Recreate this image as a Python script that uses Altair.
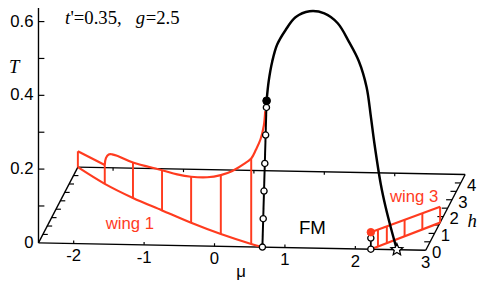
import altair as alt
import numpy as np
import pandas as pd

# ---------------- model-space extents (mu, h, T) ----------------
MU_MIN, MU_MAX = -2.5, 3.0
H_MAX = 4.5
T_AXIS_TOP = 0.66

t_ticks = [0.1, 0.2, 0.3, 0.4, 0.5, 0.6]
t_labels = [0.0, 0.2, 0.4, 0.6]
t_label_text = ["0", "0.2", "0.4", "0.6"]
mu_labels = [-2, -1, 0, 1, 2, 3]
mu_label_text = ["-2", "-1", "0", "1", "2", "3"]
mu_edge_ticks = [-2, -1, 0, 1, 2]
h_ticks = [0.5, 1.0, 1.5, 2.0, 2.5, 3.0, 3.5, 4.0]
h_labels = [0, 1, 2, 3, 4]
h_label_text = ["0", "1", "2", "3", "4"]

# first-order line in the h = 0 plane
fo_mu = [0.68, 0.74]
fo_T = [0.0, 0.397]
fo_circle_T = [0.0, 0.077, 0.152, 0.227, 0.304, 0.379]
cep_mu = [0.74]
cep_T = [0.397]

# critical line in the h = 0 plane
crit_mu = [0.74, 0.77, 0.82, 0.89, 1.01, 1.15, 1.35, 1.56, 1.75, 1.91, 2.05,
           2.16, 2.22, 2.27, 2.36, 2.43, 2.51, 2.59]
crit_T = [0.397, 0.451, 0.504, 0.550, 0.590, 0.625, 0.642, 0.637, 0.611, 0.561,
          0.509, 0.439, 0.360, 0.288, 0.178, 0.115, 0.055, 0.0]
star_mu = [2.59]

# wing 1
w1_bot_mu = [-2.5, -2.0, -1.5, -1.0, -0.5, 0.0, 0.5, 0.68]
w1_bot_h = [4.5, 3.55, 2.75, 2.05, 1.35, 0.72, 0.17, 0.0]
w1_edge_mu = [-2.5, -2.0]
w1_edge_h = [4.5, 3.55]
w1_edge_T = [0.043, 0.051]
w1_top_mu = [-2.0, -1.98, -1.93, -1.87, -1.77, -1.5, -1.0, -0.74, -0.5, -0.23,
             0.0, 0.18, 0.37, 0.5, 0.575, 0.65, 0.70, 0.72]
w1_top_h = [3.55, 3.52, 3.44, 3.34, 3.18, 2.75, 2.05, 1.69, 1.35, 1.01,
            0.72, 0.525, 0.31, 0.17, 0.099, 0.028, 0.0, 0.0]
w1_top_T = [0.051, 0.071, 0.085, 0.090, 0.093, 0.096, 0.109, 0.115, 0.125, 0.140,
            0.160, 0.180, 0.209, 0.232, 0.259, 0.291, 0.329, 0.369]
w1_hatch_mu = [-2.5, -2.0, -1.5, -1.0, -0.5, 0.0, 0.5]
w1_hatch_h = [4.5, 3.55, 2.75, 2.05, 1.35, 0.72, 0.17]
w1_hatch_T = [0.043, 0.051, 0.096, 0.109, 0.125, 0.160, 0.232]

# wing 3
w3_bot_mu = [2.25, 3.0]
w3_bot_h = [0.06, 1.64]
w3_top_mu = [2.22, 3.0]
w3_top_h = [0.0, 1.64]
w3_top_T = [0.046, 0.043]
w3_hatch_mu = [2.3, 2.4, 2.6, 2.8, 3.0]
w3_hatch_h = [0.17, 0.38, 0.80, 1.22, 1.64]
w3_hatch_T = [0.046, 0.046, 0.045, 0.044, 0.043]
w3_mu = [2.22]
w3_circle_T = [0.0, 0.03]
w3_dot_T = [0.046]

# ---------------- oblique projection ----------------
KX = 8.9 / 71.6
KY = 17.1 / 375.0
KM = 1.36 / 375.0


def proj(mu, h, T):
    mu, h, T = np.broadcast_arrays(np.asarray(mu, float), np.asarray(h, float),
                                   np.asarray(T, float))
    return mu + KX * h, T + KY * h - KM * (mu - MU_MIN)


def line_df(mu, h, T):
    X, Y = proj(mu, h, T)
    return pd.DataFrame({"X": X, "Y": Y, "i": np.arange(len(X))})


def rule_df(mu, h, T, mu2, h2, T2):
    X, Y = proj(mu, h, T)
    X2, Y2 = proj(mu2, h2, T2)
    return pd.DataFrame({"X": X, "Y": Y, "X2": X2, "Y2": Y2})


def tick_df(mu, h, T, dX, dY):
    X, Y = proj(mu, h, T)
    return pd.DataFrame({"X": X, "Y": Y, "X2": X + dX, "Y2": Y + dY})


W, H = 482, 274
xs = alt.Scale(domain=[-2.5 - 31 / 71.6, -2.5 + (W - 31) / 71.6], nice=False, zero=False)
ys = alt.Scale(domain=[(236.5 - H) / 375.0, 236.5 / 375.0], nice=False, zero=False)
ex = alt.X("X:Q", scale=xs, axis=None)
ey = alt.Y("Y:Q", scale=ys, axis=None)

RED = "#ff3b1f"
SANS = "Liberation Sans"
SERIF = "Liberation Serif"


def rules(df, color, width):
    return alt.Chart(df).mark_rule(color=color, strokeWidth=width).encode(
        x=ex, y=ey, x2="X2:Q", y2="Y2:Q")


def line(df, color, width, interp="linear"):
    return alt.Chart(df).mark_line(color=color, strokeWidth=width, interpolate=interp).encode(
        x=ex, y=ey, order="i:Q")


def points(df, size, fill, stroke, sw, shape="circle"):
    return alt.Chart(df).mark_point(shape=shape, size=size, filled=True, fill=fill,
                                    stroke=stroke, strokeWidth=sw, opacity=1).encode(x=ex, y=ey)


# box and axes
box = rule_df([MU_MIN, MU_MIN, MU_MIN, MU_MAX, MU_MIN],
              [0, H_MAX, 0, 0, 0],
              [0, 0, 0, 0, 0],
              [MU_MAX, MU_MAX, MU_MIN, MU_MAX, MU_MIN],
              [0, H_MAX, H_MAX, H_MAX, 0],
              [0, 0, 0, 0, T_AXIS_TOP])
ticks = pd.concat([
    tick_df(MU_MIN, 0, t_ticks, 6 / 71.6, 0),
    tick_df(mu_edge_ticks, 0, 0, 0, 3 / 375),
    tick_df(mu_edge_ticks, H_MAX, 0, 0, -3 / 375),
    tick_df(MU_MIN, h_ticks, 0, 5 / 71.6, 0),
    tick_df(MU_MAX, h_ticks, 0, -6 / 71.6, 0),
])

layers = [
    rules(box, "black", 1.4),
    rules(ticks, "black", 1.2),
    # wing 1
    rules(rule_df(w1_hatch_mu, w1_hatch_h, 0, w1_hatch_mu, w1_hatch_h, w1_hatch_T), RED, 2),
    line(line_df(w1_bot_mu, w1_bot_h, 0), RED, 2.2, "catmull-rom"),
    line(line_df(w1_edge_mu, w1_edge_h, w1_edge_T), RED, 2.2),
    line(line_df(w1_top_mu, w1_top_h, w1_top_T), RED, 2.2, "catmull-rom"),
    # wing 3
    rules(rule_df(w3_hatch_mu, w3_hatch_h, 0, w3_hatch_mu, w3_hatch_h, w3_hatch_T), RED, 2),
    line(line_df(w3_bot_mu, w3_bot_h, 0), RED, 2.2),
    line(line_df(w3_top_mu, w3_top_h, w3_top_T), RED, 2.2),
    # h = 0 plane black lines
    line(line_df(fo_mu, 0, fo_T), "black", 2),
    line(line_df(crit_mu, 0, crit_T), "black", 2.5, "catmull-rom"),
    rules(rule_df(w3_mu, 0, 0, w3_mu, 0, w3_dot_T), "black", 1.8),
    # markers
    points(line_df(np.interp(fo_circle_T, fo_T, fo_mu), 0, fo_circle_T), 40, "white", "black", 1.3),
    points(line_df(w3_mu * 2, 0, w3_circle_T), 40, "white", "black", 1.3),
    points(line_df(cep_mu, 0, cep_T), 62, "black", "black", 1),
    points(line_df(w3_mu, 0, w3_dot_T), 58, RED, RED, 1),
    points(line_df(star_mu, 0, 0), 160, "white", "black", 1.3,
           shape="M0,-1L0.265,-0.364L0.951,-0.309L0.428,0.139L0.588,0.809L0,0.45"
                 "L-0.588,0.809L-0.428,0.139L-0.951,-0.309L-0.265,-0.364Z"),
]

# axis tick labels
Xl, Yl = proj(MU_MIN, 0, t_labels)
layers.append(alt.Chart(pd.DataFrame({"X": Xl, "Y": Yl, "t": t_label_text})).mark_text(
    align="right", baseline="middle", dx=-5, fontSize=17, font=SANS, color="black").encode(
    x=ex, y=ey, text="t:N"))
Xl, Yl = proj(mu_labels, 0, 0)
layers.append(alt.Chart(pd.DataFrame({"X": Xl, "Y": Yl, "t": mu_label_text})).mark_text(
    align="center", baseline="middle", dy=13, fontSize=17, font=SANS, color="black").encode(
    x=ex, y=ey, text="t:N"))
Xl, Yl = proj(MU_MAX, h_labels, 0)
layers.append(alt.Chart(pd.DataFrame({"X": Xl, "Y": Yl, "t": h_label_text})).mark_text(
    align="center", baseline="middle", dx=11, dy=3, fontSize=17, font=SANS, color="black").encode(
    x=ex, y=ey, text="t:N"))


def note(txt, x, y, size, font, color="black", style="normal", align="left"):
    return alt.Chart(pd.DataFrame({"t": [txt]})).mark_text(
        align=align, baseline="alphabetic", fontSize=size, font=font, fontStyle=style,
        color=color).encode(x=alt.value(x), y=alt.value(y), text="t:N")


layers += [
    note("t", 58, 14, 19, SERIF, style="italic"),
    note("'=0.35,", 63.5, 14, 19, SERIF),
    note("g", 130, 14, 19, SERIF, style="italic"),
    note("=2.5", 140, 14, 19, SERIF),
    note("T", 1, 64, 19, SERIF, style="italic"),
    note("h", 472, 220.5, 19, SERIF, style="italic", align="center"),
    note("\u03bc", 237, 271, 17, SANS, align="center"),
    note("FM", 309.5, 228, 19, SANS, align="center"),
    note("wing 1", 124, 222, 17, SANS, color=RED, align="center"),
    note("wing 3", 413, 195, 17, SANS, color=RED, align="center"),
]

chart = alt.layer(*layers).properties(
    width=W, height=H, autosize=alt.AutoSizeParams(type="none"), padding=0
).configure_view(stroke=None)

chart.save("out.html", embed_options={"renderer": "svg", "actions": False})
